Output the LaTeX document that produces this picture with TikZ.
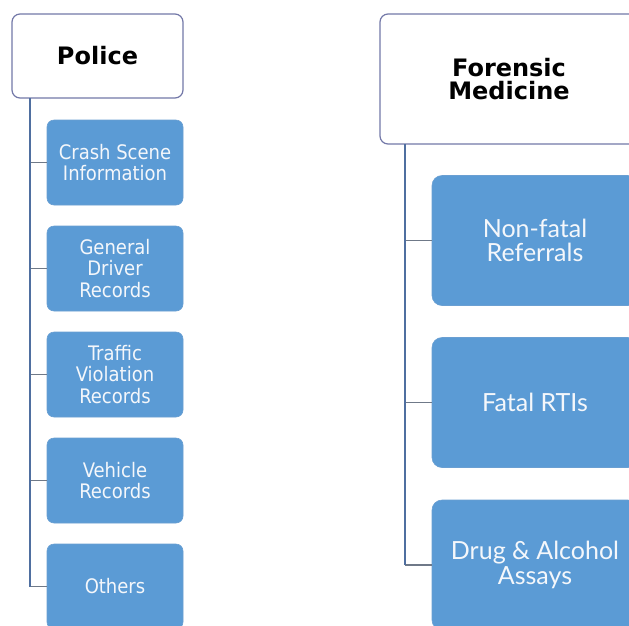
\documentclass[tikz,border=0pt]{standalone}
\usepackage{fontspec}
\newfontfamily\headfont{DejaVu Sans}
\newfontfamily\leftfont{DejaVu Sans Condensed}
\newfontfamily\rightfont{Lato}
\definecolor{boxblue}{HTML}{5B9BD5}
\definecolor{boxedge}{HTML}{6A9FD2}
\definecolor{headedge}{HTML}{7378A8}
\definecolor{vcol}{HTML}{4F6FA0}
\definecolor{hcol}{HTML}{6F7988}
\definecolor{txtw}{HTML}{F4F7FB}
\tikzset{
  headbox/.style={draw=headedge, line width=1.2pt, fill=white, rounded corners=8pt,
    inner sep=0pt, align=center, text=black, font=\headfont\bfseries\fontsize{24}{22.5}\selectfont},
  leftbox/.style={draw=boxedge, line width=0.6pt, fill=boxblue, rounded corners=7pt,
    minimum width=136pt, minimum height=85pt, inner sep=0pt, align=center, text=txtw,
    font=\leftfont\fontsize{20}{21.5}\selectfont},
  rightbox/.style={draw=boxedge, line width=0.6pt, fill=boxblue, rounded corners=10pt,
    minimum width=206pt, minimum height=130pt, inner sep=0pt, align=center, text=txtw,
    font=\rightfont\fontsize{25}{24.5}\selectfont},
  vline/.style={draw=vcol, line width=2pt},
  hline/.style={draw=hcol, line width=1.8pt}
}
\begin{document}
\begin{tikzpicture}[x=1pt, y=-1pt]
\useasboundingbox (0,0) rectangle (629,625);
\clip (0,0) rectangle (629,625);
\fill[white] (0,0) rectangle (629,625);
% left column
\node[headbox, minimum width=171pt, minimum height=84pt] (police) at (97.5,56) {Police};
\node[leftbox] (crash) at (115,162.5) {Crash Scene\\Information};
\node[leftbox] (driver) at (115,268.5) {General\\Driver\\Records};
\node[leftbox] (traffic) at (115,374.5) {Traffic\\Violation\\Records};
\node[leftbox] (vehicle) at (115,480.5) {Vehicle\\Records};
\node[leftbox] (others) at (115,586.5) {Others};
\coordinate (ltop) at (30,98);
\draw[hline] (ltop |- crash.west) -- (crash.west);
\draw[hline] (ltop |- driver.west) -- (driver.west);
\draw[hline] (ltop |- traffic.west) -- (traffic.west);
\draw[hline] (ltop |- vehicle.west) -- (vehicle.west);
\draw[hline] (ltop |- others.west) -- (others.west);
\draw[vline] (ltop) -- (ltop |- others.west);
% right column
\node[headbox, minimum width=258pt, minimum height=130pt] (forensic) at (509,79) {Forensic\\Medicine};
\node[rightbox] (nonfatal) at (535,240.5) {Non-fatal\\Referrals};
\node[rightbox] (fatal) at (535,402.5) {Fatal RTIs};
\node[rightbox] (drug) at (535,565) {Drug \& Alcohol\\Assays};
\coordinate (rtop) at (405,144);
\draw[hline] (rtop |- nonfatal.west) -- (nonfatal.west);
\draw[hline] (rtop |- fatal.west) -- (fatal.west);
\draw[hline] (rtop |- drug.west) -- (drug.west);
\draw[vline] (rtop) -- (rtop |- drug.west);
\end{tikzpicture}
\end{document}
